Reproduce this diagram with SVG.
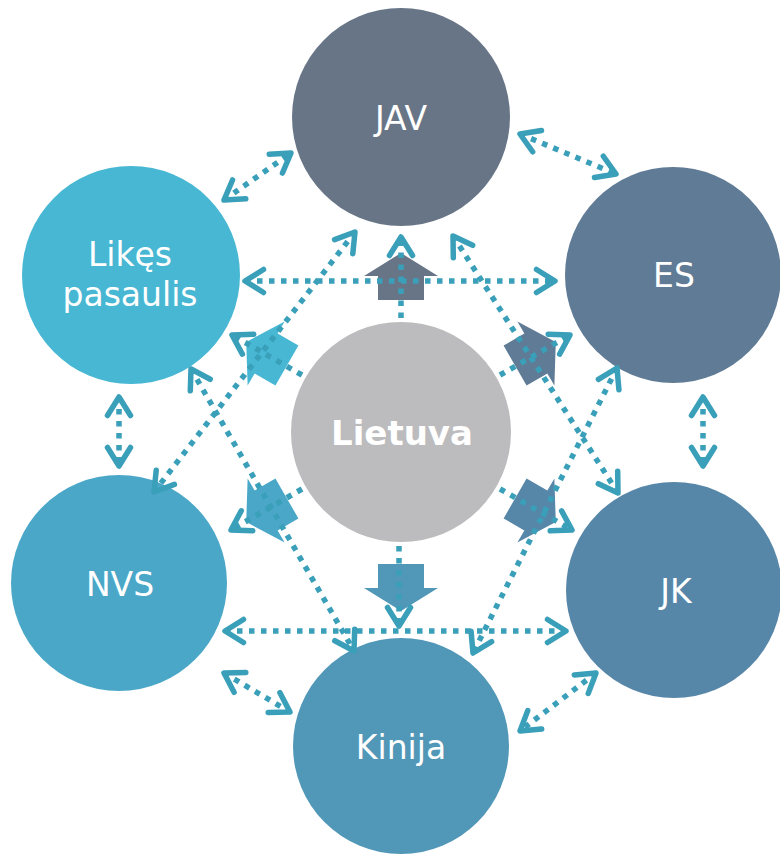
<svg xmlns="http://www.w3.org/2000/svg" width="780" height="855" viewBox="0 0 780 855">
<style>
.lbl{font-family:"DejaVu Sans","Liberation Sans",sans-serif;font-size:33px;fill:#ffffff;text-anchor:middle}
.ctr{font-family:"DejaVu Sans","Liberation Sans",sans-serif;font-size:34px;font-weight:bold;fill:#ffffff;text-anchor:middle}
.dot{fill:none;stroke:#3a9fb9;stroke-width:5.5;stroke-dasharray:5.5 6.5;marker-end:url(#chev)}
.both{marker-start:url(#chev)}
</style>
<defs>
<marker id="chev" viewBox="-24 -16 28 32" refX="0" refY="0" markerWidth="28" markerHeight="32" markerUnits="userSpaceOnUse" orient="auto-start-reverse" overflow="visible">
<path d="M-18.5,-11.5 L0,0 L-18.5,11.5" fill="none" stroke="#3a9fb9" stroke-width="5.5" stroke-linecap="round" stroke-linejoin="round"/>
</marker>
<path id="blk" d="M0,-24 L37,-1 L23,-1 L23,23 L-23,23 L-23,-1 L-37,-1 Z"/>
</defs>
<g id="node-jav"><circle cx="401" cy="117" r="109" fill="#677587"/><text class="lbl" x="401" y="130">JAV</text></g>
<g id="node-es"><circle cx="673" cy="275" r="108" fill="#5f7b95"/><text class="lbl" x="674" y="287">ES</text></g>
<g id="node-jk"><circle cx="674" cy="590" r="108" fill="#5787a8"/><text class="lbl" x="676" y="603">JK</text></g>
<g id="node-kinija"><circle cx="401" cy="746" r="108" fill="#5197b8"/><text class="lbl" x="401" y="759">Kinija</text></g>
<g id="node-nvs"><circle cx="119" cy="583" r="108" fill="#4aa7c8"/><text class="lbl" x="120" y="596">NVS</text></g>
<g id="node-likes"><circle cx="131" cy="275" r="109" fill="#47b7d3"/><text class="lbl" x="130" y="266">Likęs</text><text class="lbl" x="130" y="306">pasaulis</text></g>
<g id="node-lietuva"><circle cx="401" cy="432" r="110" fill="#bcbcbe"/><text class="ctr" x="402" y="445">Lietuva</text></g>
<g id="block-arrows">
<use href="#blk" fill="#677587" transform="translate(401,277)"/>
<use href="#blk" fill="#5f7b95" transform="translate(535,354) rotate(60)"/>
<use href="#blk" fill="#5787a8" transform="translate(535,510) rotate(120)"/>
<use href="#blk" fill="#5197b8" transform="translate(401,587) rotate(180)"/>
<use href="#blk" fill="#4aa7c8" transform="translate(267,510) rotate(240)"/>
<use href="#blk" fill="#47b7d3" transform="translate(267,354) rotate(300)"/>
</g>
<g id="connectors">
<path class="dot" d="M401,318 L401,237"/>
<path class="dot" d="M500,375 L570,335"/>
<path class="dot" d="M500,489 L572,530"/>
<path class="dot" d="M399,546 L399,626"/>
<path class="dot" d="M302,489 L231,530"/>
<path class="dot" d="M302,375 L232,335"/>
<path class="dot both" d="M520,134 L616,174"/>
<path class="dot both" d="M703,397 L703,466"/>
<path class="dot both" d="M596,673 L520,731"/>
<path class="dot both" d="M224,673 L290,712"/>
<path class="dot both" d="M119,397 L119,466"/>
<path class="dot both" d="M224,200 L291,153"/>
<path class="dot both" d="M245,281 L555,281"/>
<path class="dot both" d="M225,631 L566,631"/>
<path class="dot both" d="M355,232 L154,492"/>
<path class="dot both" d="M453,236 L618,493"/>
<path class="dot both" d="M191,369 L354,651"/>
<path class="dot both" d="M617,368 L473,653"/>
</g>
</svg>
